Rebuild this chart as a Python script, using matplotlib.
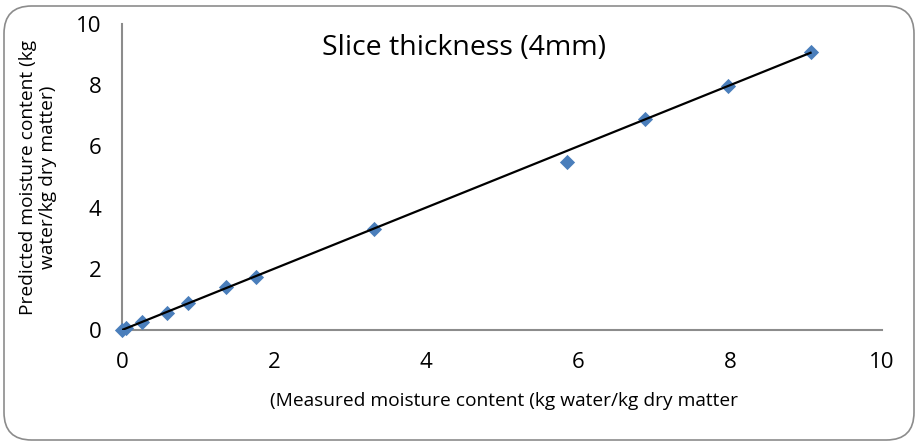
import numpy as np
import matplotlib.pyplot as plt
from matplotlib.patches import FancyBboxPatch

# measured vs predicted moisture ratio, 4 mm slices
measured = [0.0, 0.05, 0.26, 0.59, 0.87, 1.37, 1.76, 3.31, 5.85, 6.88, 7.97, 9.06]
predicted = [0.0, 0.05, 0.27, 0.57, 0.87, 1.40, 1.72, 3.30, 5.50, 6.89, 7.97, 9.09]
x_ticks = [0, 2, 4, 6, 8, 10]
y_ticks = [0, 2, 4, 6, 8, 10]

plt.rcParams['font.family'] = ['Open Sans', 'DejaVu Sans']

fig = plt.figure(figsize=(9.2, 4.44), dpi=100)
ax = fig.add_axes([122 / 920, 1 - 330 / 444, 760 / 920, 306 / 444])

# rounded chart border
border = FancyBboxPatch((4 / 920, 4 / 444), 910 / 920, 434 / 444,
                        boxstyle="round,pad=0,rounding_size=0.03",
                        transform=fig.transFigure, facecolor='none',
                        edgecolor='#8c8c8c', linewidth=1.2, mutation_aspect=920 / 444)
fig.patches.append(border)

ax.scatter(measured, predicted, marker='D', s=60, color='#4a7ebb', zorder=3, linewidths=0)
line_x = np.array([0, max(measured)])
ax.plot(line_x, line_x, color='black', linewidth=1.6, zorder=4)

ax.set_xlim(0, 10)
ax.set_ylim(0, 10)
ax.set_xticks(x_ticks)
ax.set_yticks(y_ticks)
ax.tick_params(length=0, labelsize=16)
ax.tick_params(axis='x', pad=16)
ax.tick_params(axis='y', pad=15)
for s in ['top', 'right']:
    ax.spines[s].set_visible(False)
for s in ['left', 'bottom']:
    ax.spines[s].set_color('#8c8c8c')
    ax.spines[s].set_linewidth(1.5)
ax.patch.set_alpha(0)
for c in ax.collections:
    c.set_clip_on(False)

ax.text(0.45, 0.92, 'Slice thickness (4mm)', transform=ax.transAxes,
        ha='center', va='center', fontsize=20.5)
fig.text(38 / 920, 1 - 177 / 444, 'Predicted moisture content (kg\nwater/kg dry matter)',
         rotation=90, ha='center', va='center', fontsize=13.8, linespacing=1.2)
fig.text(504 / 920, 1 - 401 / 444, '(Measured moisture content (kg water/kg dry matter',
         ha='center', va='center', fontsize=13.8)

fig.savefig('out.png', dpi=100)
